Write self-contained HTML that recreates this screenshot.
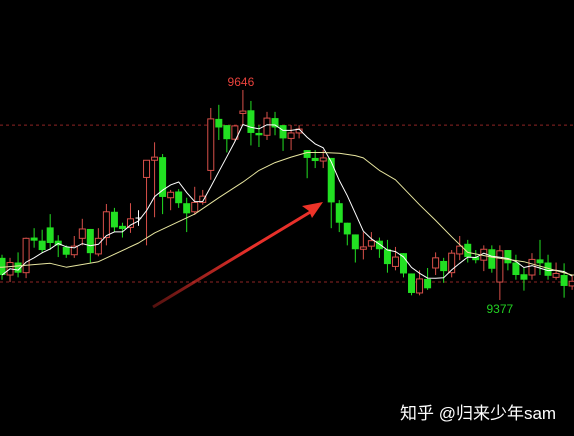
<!DOCTYPE html>
<html><head><meta charset="utf-8"><style>
html,body{margin:0;padding:0;background:#000;}
#wrap{position:relative;width:574px;height:436px;overflow:hidden;background:#000;}
svg{position:absolute;left:0;top:0;}
</style></head><body>
<div id="wrap">
<svg id="chart" width="574" height="436"></svg>
</div>
<script>
const opens  = [9431,9409,9425,9412,9457,9453,9470,9453,9445,9435,9456,9468,9436,9457,9490,9472,9470,9482,9534,9556,9560,9508,9516,9501,9490,9502,9543,9609,9601,9583,9616,9620,9591,9588,9610,9601,9584,9591,9569,9559,9555,9559,9501,9476,9461,9442,9446,9453,9442,9420,9437,9411,9386,9404,9418,9427,9412,9436,9449,9432,9428,9442,9400,9441,9425,9410,9409,9429,9425,9406,9409,9395];
const closes = [9409,9425,9412,9456,9453,9441,9450,9447,9435,9446,9468,9437,9456,9490,9470,9468,9481,9482,9556,9560,9509,9515,9501,9488,9502,9510,9609,9598,9583,9600,9619,9591,9588,9610,9598,9584,9591,9596,9559,9555,9559,9502,9476,9461,9442,9445,9453,9442,9423,9432,9411,9386,9404,9392,9431,9414,9437,9446,9432,9428,9442,9417,9440,9424,9409,9403,9429,9424,9408,9411,9395,9401];
const highs  = [9435,9431,9438,9457,9469,9467,9487,9460,9447,9459,9481,9468,9469,9500,9495,9476,9501,9492,9556,9579,9564,9518,9519,9508,9522,9518,9623,9627,9601,9601,9646,9632,9601,9618,9618,9601,9601,9601,9569,9569,9569,9559,9505,9476,9461,9464,9464,9457,9454,9445,9437,9411,9415,9418,9438,9431,9441,9459,9454,9441,9447,9447,9447,9441,9435,9418,9437,9454,9435,9425,9424,9409];
const lows   = [9403,9400,9406,9405,9444,9437,9441,9432,9431,9431,9447,9425,9433,9447,9464,9457,9463,9472,9447,9483,9487,9492,9495,9464,9486,9499,9531,9582,9566,9581,9601,9575,9573,9582,9588,9568,9569,9584,9533,9546,9546,9469,9464,9447,9425,9429,9441,9431,9412,9415,9406,9383,9383,9390,9409,9399,9406,9428,9425,9424,9414,9412,9377,9415,9403,9389,9403,9409,9403,9403,9380,9390];
const slowMaIdx = [0,6,8,12,17,19,24,27,30,32,34,36,38,40,42,44,45,47,49,52,54,56,58,61,65,71];
const slowMaVal = [9419,9424,9419,9426,9450,9463,9487,9508,9528,9543,9553,9560,9566,9566,9565,9562,9559,9543,9531,9499,9479,9458,9438,9432,9426,9409];
const levelLines = [9601,9400];
const markHigh = 9646, markLow = 9377;
const markHighIdx = 30, markLowIdx = 62;

const NS='http://www.w3.org/2000/svg';
const svg=document.getElementById('chart');
function yS(p){return 90+(9646-p)*(210/269);}
function xS(i){return 2+i*8.03;}
function mk(tag,attrs,parent){const e=document.createElementNS(NS,tag);for(const k in attrs)e.setAttribute(k,attrs[k]);(parent||svg).appendChild(e);return e;}

levelLines.forEach(v=>{
  const l=mk('line',{x1:0,x2:574,y1:yS(v),y2:yS(v),stroke:'#8e2424','stroke-width':1,'stroke-dasharray':'3,3'});
  
  
});

const gC=mk('g',{});


for(let i=0;i<opens.length;i++){
  const o=opens[i],c=closes[i],x=xS(i);
  const up=c>o, doji=c===o;
  const col=doji?'#ffffff':(up?'#d8504a':'#22e022');
  const g=mk('g',{},gC);
  
  
  mk('line',{x1:x,x2:x,y1:yS(highs[i]),y2:yS(lows[i]),stroke:col,'stroke-width':1},g);
  const top=yS(Math.max(o,c)),bot=yS(Math.min(o,c));
  if(doji){mk('line',{x1:x-3,x2:x+3,y1:top,y2:top,stroke:col,'stroke-width':1},g);}
  else if(up){mk('rect',{x:x-3,y:top,width:6,height:Math.max(1,bot-top),fill:'#000',stroke:col,'stroke-width':1},g);}
  else{mk('rect',{x:x-3.5,y:top,width:7,height:Math.max(1,bot-top),fill:col},g);}
}

let pts=[];
for(let i=0;i<closes.length;i++){
  const s=closes.slice(Math.max(0,i-4),i+1);
  const m=s.reduce((a,b)=>a+b,0)/s.length;
  pts.push(xS(i).toFixed(1)+','+yS(m).toFixed(1));
}
const ma5=mk('polyline',{points:pts.join(' '),fill:'none',stroke:'#ffffff','stroke-width':1});



const sp=slowMaIdx.map((k,j)=>xS(k).toFixed(1)+','+yS(slowMaVal[j]).toFixed(1));
sp.unshift('0,'+yS(slowMaVal[0]).toFixed(1));
sp.push('574,'+yS(slowMaVal[slowMaVal.length-1]).toFixed(1));
const maS=mk('polyline',{points:sp.join(' '),fill:'none',stroke:'#e8e6a0','stroke-width':1,'stroke-linejoin':'round'});



const th=mk('text',{x:xS(markHighIdx)-2,y:yS(markHigh)-4,fill:'#e8423c','font-size':12,'text-anchor':'middle','font-family':'Liberation Sans, sans-serif'});
th.textContent=String(markHigh);


const tl=mk('text',{x:xS(markLowIdx),y:yS(markLow)+13,fill:'#22d022','font-size':12,'text-anchor':'middle','font-family':'Liberation Sans, sans-serif'});
tl.textContent=String(markLow);



const defs=mk('defs',{});
const lg=mk('linearGradient',{id:'ag',gradientUnits:'userSpaceOnUse',x1:'153',y1:'307',x2:'312',y2:'211'},defs);
mk('stop',{offset:'0','stop-color':'#e8302a','stop-opacity':'0.35'},lg);
mk('stop',{offset:'0.6','stop-color':'#e8302a','stop-opacity':'1'},lg);
const ag=mk('g',{});


mk('line',{x1:153,y1:307,x2:312,y2:211,stroke:'url(#ag)','stroke-width':3},ag);
mk('polygon',{points:'323,202 302,206 309,211 312,218',fill:'#ee3328'},ag);
</script>
<div style="position:absolute;left:400px;top:399px;color:#fff;font-size:17px;font-family:'Liberation Sans','Noto Sans CJK SC',sans-serif;white-space:nowrap;">知乎 @归来少年sam</div>
</body></html>
